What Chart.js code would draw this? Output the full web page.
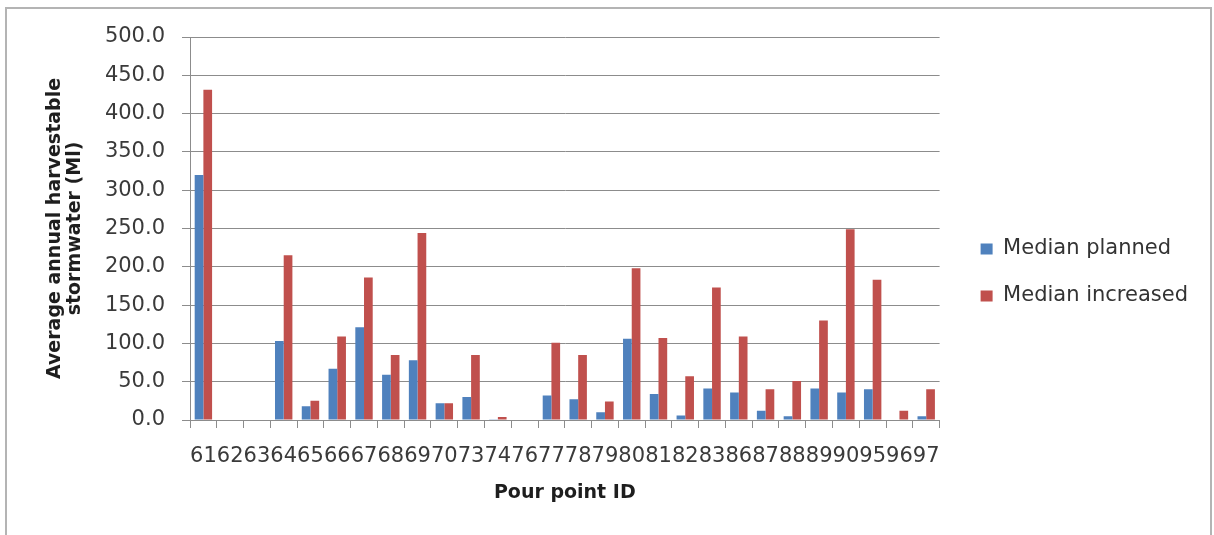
<!DOCTYPE html>
<html>
<head>
<meta charset="utf-8">
<title>Harvestable stormwater by pour point</title>
<script src="https://cdn.jsdelivr.net/npm/chart.js@4.4.1/dist/chart.umd.min.js"></script>
<style>
  html, body { margin: 0; padding: 0; background: #fff; overflow: hidden; }
  #wrap { position: relative; width: 1214px; height: 535px; }
  #frame { position: absolute; left: 5px; top: 7px; width: 1203px; height: 540px; border: 2px solid #b4b4b4; border-bottom: none; }
  canvas { position: absolute; left: 0; top: 0; }
</style>
</head>
<body>
<div id="wrap">
  <div id="frame"></div>
  <canvas id="chart" width="1214" height="535"></canvas>
</div>
<script>
// x categories (pour point IDs)
const pourPoints = ['61', '62', '63', '64', '65', '66', '67', '68', '69', '70', '73', '74', '76', '77',
                    '78', '79', '80', '81', '82', '83', '86', '87', '88', '89', '90', '95', '96', '97'];

// values (Ml)
const medianPlanned   = [320, null, null, 103, 18, 67, 121, 59, 78, 22, 30, 1, null, 32,
                         27, 10, 106, 34, 6, 41, 36, 12, 5, 41, 36, 40, 0, 5];
const medianIncreased = [431, null, null, 215, 25, 109, 186, 85, 244, 22, 85, 4, null, 101,
                         85, 24, 198, 107, 57, 173, 109, 40, 51, 130, 249, 183, 12, 40];

// y axis
const yMin = 0;
const yMax = 500;
const yStep = 50;
const yTitle = ['Average annual harvestable', 'stormwater (Ml)'];
const xTitle = 'Pour point ID';

Chart.defaults.font.family = "'DejaVu Sans', sans-serif";
Chart.defaults.color = '#3a3a3a';

// push the legend a bit right of the plot, like the original
const legendShift = {
    id: 'legendShift',
    afterLayout(chart) {
        chart.legend.left += 15;
        chart.legend.right += 15;
    }
};

const gridGray = '#8c8c8c';

new Chart(document.getElementById('chart'), {
    type: 'bar',
    data: {
        labels: pourPoints,
        datasets: [
            { label: 'Median planned', data: medianPlanned, backgroundColor: '#4F81BD' },
            { label: 'Median increased', data: medianIncreased, backgroundColor: '#C0504D' }
        ]
    },
    options: {
        responsive: false,
        animation: false,
        layout: { padding: { left: 30, right: 31, top: 37, bottom: 27 } },
        datasets: { bar: { categoryPercentage: 0.65, barPercentage: 1.0 } },
        plugins: {
            legend: {
                position: 'right',
                labels: { boxWidth: 12, boxHeight: 11, padding: 26, color: '#333', font: { size: 21 } }
            },
            tooltip: { enabled: false }
        },
        scales: {
            x: {
                grid: { drawOnChartArea: false, drawTicks: true, tickLength: 8, color: gridGray },
                border: { color: gridGray },
                ticks: { autoSkip: false, maxRotation: 0, minRotation: 0, padding: 16, font: { size: 21 } },
                title: {
                    display: true, text: xTitle, color: '#1e1e1e',
                    font: { size: 19, weight: 'bold', lineHeight: 1 },
                    padding: { top: 0, bottom: 5 }
                },
                afterFit(scale) { scale.height = 88; }
            },
            y: {
                min: yMin,
                max: yMax,
                ticks: { stepSize: yStep, padding: 17, font: { size: 21 }, callback: v => v.toFixed(1) },
                grid: { color: gridGray, tickLength: 8 },
                border: { color: gridGray },
                title: {
                    display: true, text: yTitle, color: '#1e1e1e',
                    font: { size: 19, weight: 'bold', lineHeight: 1.05 },
                    padding: { top: 15, bottom: 0 }
                },
                afterFit(scale) { scale.width = 160; }
            }
        }
    },
    plugins: [legendShift]
});
</script>
</body>
</html>
